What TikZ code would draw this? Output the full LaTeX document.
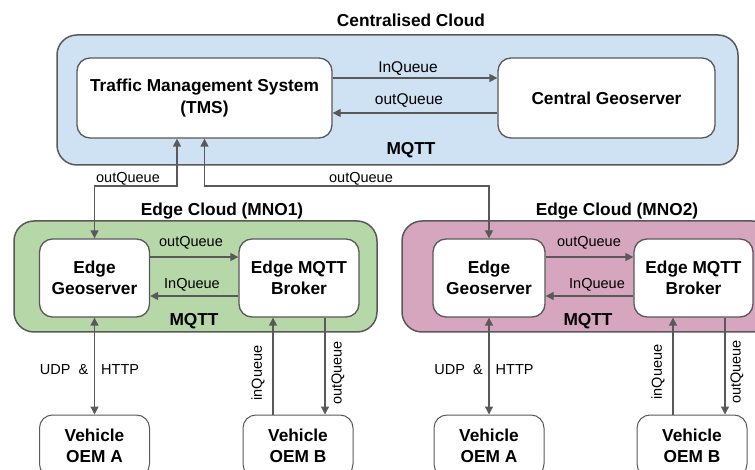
\documentclass[tikz,border=0pt]{standalone}
\usepackage{fontspec}
\setmainfont{Liberation Sans}
\usetikzlibrary{arrows.meta}
\definecolor{linegray}{HTML}{595959}
\definecolor{cloudblue}{HTML}{CFE2F3}
\definecolor{mnogreen}{HTML}{B6D7A8}
\definecolor{mnopink}{HTML}{D5A6BD}

\begin{document}
\begin{tikzpicture}[x=1pt,y=-1pt,
  >={Triangle[length=8pt,width=8pt]},
  cloudbox/.style={draw=linegray, line width=1.5pt, rounded corners=20pt, inner sep=0pt},
  unit/.style={draw=linegray, line width=1.3pt, fill=white, rounded corners=13pt,
    align=center, inner sep=0pt, font=\fontsize{17.3}{21.5}\selectfont\bfseries},
  headline/.style={font=\fontsize{17.3}{20}\selectfont\bfseries, inner sep=0pt},
  lbl/.style={font=\fontsize{14.5}{17}\selectfont, inner sep=0pt},
  biglbl/.style={font=\fontsize{15.5}{18}\selectfont, inner sep=0pt},
  flow/.style={draw=linegray, line width=1.3pt},
]
\useasboundingbox (0,0) rectangle (755,470);
\clip (0,0) rectangle (755,470);

% ---------------- centralised cloud ----------------
\node[headline] (ctitle) at (411,20) {Centralised Cloud};
\node[cloudbox, fill=cloudblue, minimum width=681pt, minimum height=130pt] (C) at (397.5,100) {};
\node[unit, minimum width=255pt, minimum height=80pt] (TMS) at (204.5,98) {Traffic Management System\\(TMS)};
\node[unit, minimum width=217pt, minimum height=80pt] (CG) at (606.5,98) {Central Geoserver};
\draw[flow,->] ([yshift=20pt]TMS.east) -- ([yshift=20pt]CG.west);
\draw[flow,->] ([yshift=-15pt]CG.west) -- ([yshift=-15pt]TMS.east);
\node[biglbl] (cin) at (408,69) {InQueue};
\node[biglbl] (cout) at (409,101) {outQueue};
\node[headline] (cmqtt) at (411,150) {MQTT};

% ---------------- edge cloud MNO1 ----------------
\node[headline] (e1title) at (222,211) {Edge Cloud (MNO1)};
\node[cloudbox, fill=mnogreen, minimum width=363pt, minimum height=111pt] (E1) at (195.5,276.5) {};
\node[unit, minimum width=110pt, minimum height=78pt] (EG1) at (94.5,278) {Edge\\Geoserver};
\node[unit, minimum width=120pt, minimum height=78pt] (EB1) at (299,278) {Edge MQTT\\Broker};
\draw[flow,->] ([yshift=21pt]EG1.east) -- ([yshift=21pt]EB1.west);
\draw[flow,->] ([yshift=-18pt]EB1.west) -- ([yshift=-18pt]EG1.east);
\node[lbl] (e1out) at (191,243) {outQueue};
\node[lbl] (e1in) at (192,285) {InQueue};
\node[headline] (e1mqtt) at (194,321) {MQTT};

% ---------------- edge cloud MNO2 ----------------
\node[headline] (e2title) at (617,211) {Edge Cloud (MNO2)};
\node[cloudbox, fill=mnopink, minimum width=370pt, minimum height=111pt] (E2) at (587,276.5) {};
\node[unit, minimum width=112pt, minimum height=78pt] (EG2) at (489,278) {Edge\\Geoserver};
\node[unit, minimum width=119pt, minimum height=78pt] (EB2) at (693.5,278) {Edge MQTT\\Broker};
\draw[flow,->] ([yshift=21pt]EG2.east) -- ([yshift=21pt]EB2.west);
\draw[flow,->] ([yshift=-18pt]EB2.west) -- ([yshift=-18pt]EG2.east);
\node[lbl] (e2out) at (589,243) {outQueue};
\node[lbl] (e2in) at (597,285) {InQueue};
\node[headline] (e2mqtt) at (588,321) {MQTT};

% ---------------- links between TMS and the edge geoservers ----------------
\coordinate (k1) at (177,186);
\coordinate (k2) at (204.5,186);
\draw[flow,<->] (EG1.north) |- (k1) -- (k1 |- TMS.south);
\draw[flow,<->] (TMS.south) -- (k2) -| (EG2.north);
\node[lbl] (tout1) at (128,179) {outQueue};
\node[lbl] (tout2) at (361,179) {outQueue};

% ---------------- vehicles ----------------
\node[unit, line width=1pt, minimum width=110pt, minimum height=62pt] (VA1) at (94.5,446) {Vehicle\\OEM A};
\node[unit, line width=1pt, minimum width=110pt, minimum height=62pt] (VB1) at (298,446) {Vehicle\\OEM B};
\node[unit, line width=1pt, minimum width=110pt, minimum height=62pt] (VA2) at (489,446) {Vehicle\\OEM A};
\node[unit, line width=1pt, minimum width=110pt, minimum height=62pt] (VB2) at (692,446) {Vehicle\\OEM B};

% vehicle links, MNO1
\draw[flow,<->] (EG1.south) -- (VA1.north);
\node[lbl] (udp1) at (89.5,370) {UDP\hspace{8pt}\&\hspace{13pt}HTTP};
\coordinate (b1in) at ([xshift=-26pt]EB1.south);
\coordinate (b1out) at ([xshift=26pt]EB1.south);
\draw[flow,->] (b1in |- VB1.north) -- (b1in);
\draw[flow,->] (b1out) -- (b1out |- VB1.north);
\node[lbl, rotate=90] (v1in) at (258,373) {inQueue};
\node[lbl, rotate=90] (v1out) at (338,373) {outQueue};

% vehicle links, MNO2
\draw[flow,<->] (EG2.south) -- (VA2.north);
\node[lbl] (udp2) at (484,370) {UDP\hspace{8pt}\&\hspace{13pt}HTTP};
\coordinate (b2in) at ([xshift=-20.5pt]EB2.south);
\coordinate (b2out) at ([xshift=31.5pt]EB2.south);
\draw[flow,->] (b2in |- VB2.north) -- (b2in);
\draw[flow,->] (b2out) -- (b2out |- VB2.north);
\node[lbl, rotate=90] (v2in) at (658,372) {inQueue};
\node[lbl, rotate=90] (v2out) at (737,372) {outQueue};
\end{tikzpicture}
\end{document}
